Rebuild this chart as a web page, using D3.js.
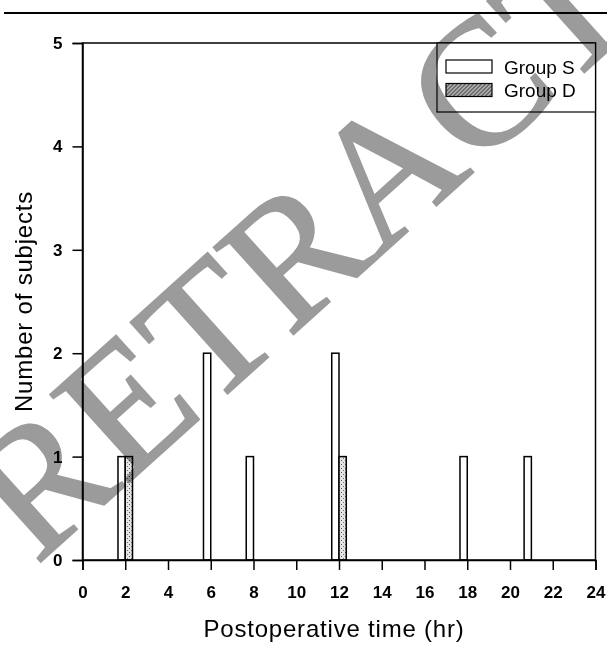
<!DOCTYPE html>
<html>
<head>
<meta charset="utf-8">
<script src="https://cdn.jsdelivr.net/npm/d3@7"></script>
<style>
  body { margin: 0; background: #fff; }
  svg { display: block; }
  .tick text { font-family: "Liberation Sans", Arial, sans-serif; font-size: 17px; font-weight: bold; fill: #000; }
  .axis-title { font-family: "Liberation Sans", Arial, sans-serif; font-size: 24px; letter-spacing: 0.8px; fill: #000; }
  .legend text { font-family: "Liberation Sans", Arial, sans-serif; font-size: 19px; fill: #000; }
</style>
</head>
<body>
<div id="chart-container"></div>
<script>
// values
const groups = ["Group S", "Group D"];
const hoursS = [2, 6, 8, 12, 18, 21];
const countsS = [1, 2, 1, 2, 1, 1];
const hoursD = [2, 12];
const countsD = [1, 1];
const xTicks = [0, 2, 4, 6, 8, 10, 12, 14, 16, 18, 20, 22, 24];
const yTicks = [0, 1, 2, 3, 4, 5];

const W = 607, H = 649;
const plot = { left: 82.5, right: 595.5, top: 43, bottom: 560 };

const svg = d3.select("#chart-container")
    .append("svg")
    .attr("width", W)
    .attr("height", H);

const defs = svg.append("defs");

// dotted fill used for Group D bars
const pat = defs.append("pattern")
    .attr("id", "dotsD")
    .attr("patternUnits", "userSpaceOnUse")
    .attr("width", 4).attr("height", 4);
pat.append("rect").attr("width", 4).attr("height", 4).attr("fill", "#e4e4e4");
pat.append("rect").attr("x", 1).attr("y", 0).attr("width", 1).attr("height", 1).attr("fill", "#555");
pat.append("rect").attr("x", 3).attr("y", 2).attr("width", 1).attr("height", 1).attr("fill", "#777");

// darker hatch for the legend swatch
const pat2 = defs.append("pattern")
    .attr("id", "hatchD")
    .attr("patternUnits", "userSpaceOnUse")
    .attr("width", 4).attr("height", 4);
pat2.append("rect").attr("width", 4).attr("height", 4).attr("fill", "#aaa");
pat2.append("path").attr("d", "M0,4 L4,0").attr("stroke", "#333").attr("stroke-width", 1);

// rule across the top of the page
svg.append("line")
    .attr("x1", 4).attr("x2", W)
    .attr("y1", 13).attr("y2", 13)
    .attr("stroke", "#000")
    .attr("stroke-width", 2);

const xScale = d3.scaleLinear().domain([0, 24]).range([plot.left, plot.right]);
const yScale = d3.scaleLinear().domain([0, 5]).range([plot.bottom, plot.top]);
const sub = d3.scaleBand().domain(groups).range([-0.34, 0.34]);

const rows = hoursS.map((h, i) => ({ g: "Group S", h: h, v: countsS[i] }))
    .concat(hoursD.map((h, i) => ({ g: "Group D", h: h, v: countsD[i] })));

// bars
svg.append("g").selectAll("rect")
    .data(rows)
    .enter()
    .append("rect")
    .attr("x", d => xScale(d.h + sub(d.g)))
    .attr("width", d => xScale(d.h + sub(d.g) + sub.bandwidth()) - xScale(d.h + sub(d.g)))
    .attr("y", d => yScale(d.v))
    .attr("height", d => yScale(0) - yScale(d.v))
    .attr("fill", d => d.g === "Group S" ? "#fff" : "url(#dotsD)")
    .attr("stroke", "#000")
    .attr("stroke-width", 1.5);

// frame
svg.append("rect")
    .attr("x", plot.left).attr("y", plot.top)
    .attr("width", plot.right - plot.left)
    .attr("height", plot.bottom - plot.top)
    .attr("fill", "none")
    .attr("stroke", "#000")
    .attr("stroke-width", 1.5);

// X axis
const xAxis = svg.append("g")
    .attr("transform", `translate(0,${plot.bottom})`)
    .call(d3.axisBottom(xScale).tickValues(xTicks).tickSize(10).tickPadding(16).tickFormat(d3.format("d")));
xAxis.select(".domain").attr("stroke-width", 1.5);
xAxis.selectAll(".tick line").attr("stroke-width", 1.5);

// Y axis
const yAxis = svg.append("g")
    .attr("transform", `translate(${plot.left},0)`)
    .call(d3.axisLeft(yScale).tickValues(yTicks).tickSize(10).tickPadding(10).tickFormat(d3.format("d")));
yAxis.select(".domain").attr("stroke-width", 1.5);
yAxis.selectAll(".tick line").attr("stroke-width", 1.5);

// axis titles
svg.append("text")
    .attr("class", "axis-title")
    .attr("x", 334)
    .attr("y", 637)
    .attr("text-anchor", "middle")
    .text("Postoperative time (hr)");

svg.append("text")
    .attr("class", "axis-title")
    .attr("transform", `translate(32,${(plot.top + plot.bottom) / 2}) rotate(-90)`)
    .attr("text-anchor", "middle")
    .text("Number of subjects");

// legend
const legend = svg.append("g").attr("class", "legend");
legend.append("rect")
    .attr("x", 437).attr("y", plot.top)
    .attr("width", plot.right - 437).attr("height", 69)
    .attr("fill", "#fff")
    .attr("stroke", "#000")
    .attr("stroke-width", 1.2);

const legendItems = legend.selectAll(".item")
    .data(groups)
    .enter()
    .append("g")
    .attr("class", "item")
    .attr("transform", (d, i) => `translate(446, ${60 + i * 23.5})`);

legendItems.append("rect")
    .attr("width", 46)
    .attr("height", 13)
    .attr("fill", d => d === "Group S" ? "#fff" : "url(#hatchD)")
    .attr("stroke", "#000")
    .attr("stroke-width", 1.2);

legendItems.append("text")
    .attr("x", 58)
    .attr("y", 7)
    .attr("dy", "0.35em")
    .text(d => d);

// retraction stamp over the figure
svg.append("text")
    .attr("transform", "translate(36,566) rotate(-42)")
    .attr("font-family", "'Liberation Serif', 'Times New Roman', serif")
    .attr("font-size", 180)
    .attr("fill", "#9b9b9b")
    .attr("stroke", "#9b9b9b")
    .attr("stroke-width", 2)
    .style("mix-blend-mode", "multiply")
    .text("RETRACTED");
</script>
</body>
</html>
